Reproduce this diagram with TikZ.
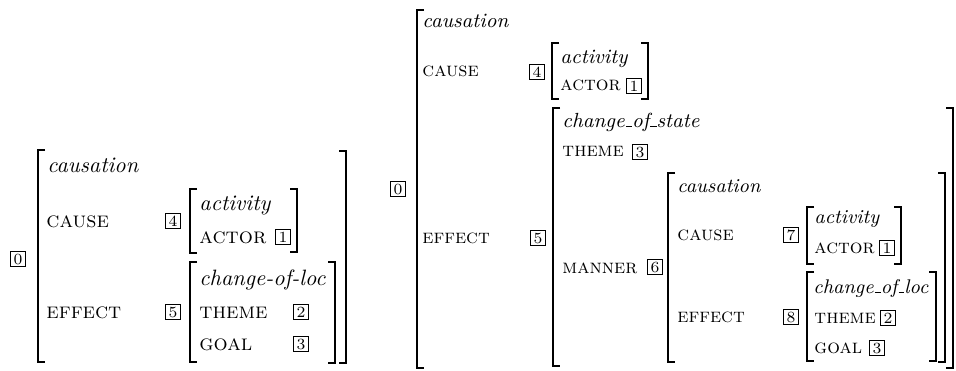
\documentclass[tikz,border=0pt]{standalone}
\usetikzlibrary{positioning}

\newcommand{\lbrak}[3]{\draw[brk] (#1+7,#2) -- (#1,#2) -- (#1,#3) -- (#1+7,#3);}
\newcommand{\rbrak}[3]{\draw[brk] (#1-7,#2) -- (#1,#2) -- (#1,#3) -- (#1-7,#3);}
\newcommand{\uscore}{\leavevmode\kern.06em\vbox{\hrule width.3em}}

\begin{document}
\begin{tikzpicture}[x=0.45pt,y=-0.45pt,
  brk/.style={line width=0.55pt},
  feat/.style={anchor=base west,inner sep=0pt,font=\scshape},
  ftype/.style={anchor=base west,inner sep=0pt,font=\itshape},
  rfeat/.style={anchor=base west,inner sep=0pt,font=\fontsize{9}{11}\selectfont\scshape},
  rtype/.style={anchor=base west,inner sep=0pt,font=\fontsize{9.2}{11}\selectfont\itshape},
  mtype/.style={anchor=base west,inner sep=0pt,font=\fontsize{8.9}{11}\selectfont\itshape},
  tag/.style={draw,line width=0.4pt,inner sep=0pt,minimum width=6.4pt,minimum height=6.6pt,font=\scriptsize}]
\useasboundingbox (0,0) rectangle (956,370);

% left structure
\node[tag] (Lt0) at (18,259) {0};
\lbrak{38}{150}{362}
\rbrak{346}{151}{363}
\node[ftype] (Lcaus) at (47,172) {causation};
\node[feat] (Lcause) at (46,227) {cause};
\node[tag] (Lt4) at (173,221) {4};
\lbrak{190}{189}{253}
\rbrak{297}{189}{252}
\node[ftype] (Lact) at (199,210) {activity};
\node[feat] (Lactor) at (199,243) {actor};
\node[tag] (Lt1) at (283,237) {1};
\node[feat] (Leff) at (46,318) {effect};
\node[tag] (Lt5) at (173,312) {5};
\lbrak{190}{262}{362}
\rbrak{335}{262}{363}
\node[ftype] (Lloc) at (199,285) {change-of-loc};
\node[feat] (Ltheme) at (199,318) {theme};
\node[tag] (Lt2) at (301,312) {2};
\node[feat] (Lgoal) at (199,350) {goal};
\node[tag] (Lt3) at (301,344) {3};

% right structure
\node[tag] (Rt0) at (398,189) {0};
\lbrak{417}{10}{368}
\node[rtype] (Rcaus) at (422,27) {causation};
\node[rfeat] (Rcause) at (422,76) {cause};
\node[tag] (Rt4) at (537,72) {4};
\lbrak{552}{43}{99}
\rbrak{648}{43}{99}
\node[rtype] (Ract) at (560,63) {activity};
\node[rfeat] (Ractor) at (560,90) {actor};
\node[tag] (Rt1) at (634,86) {1};
\node[rfeat] (Reff) at (422,243) {effect};
\node[tag] (Rt5) at (538,238) {5};
\lbrak{553}{108}{366}
\rbrak{953}{108}{368}
\node[rtype] (Rstate) at (562,127) {change\uscore of\uscore state};
\node[rfeat] (Rtheme) at (562,156) {theme};
\node[tag] (Rt3) at (640,152) {3};
\node[rfeat] (Rmanner) at (562,273) {manner};
\node[tag] (Rt6) at (655,267) {6};
% manner value
\lbrak{668}{173}{362}
\rbrak{945}{173}{362}
\node[mtype] (Mcaus) at (677,192) {causation};
\node[rfeat] (Mcause) at (677,240) {cause};
\node[tag] (Mt7) at (791,235) {7};
\lbrak{807}{207}{264}
\rbrak{901}{207}{264}
\node[mtype] (Mact) at (814,223) {activity};
\node[rfeat] (Mactor) at (814,253) {actor};
\node[tag] (Mt1) at (887,248) {1};
\node[rfeat] (Meff) at (677,322) {effect};
\node[tag] (Mt8) at (791,317) {8};
\lbrak{807}{272}{361}
\rbrak{936}{272}{361}
\node[mtype] (Mloc) at (813,293) {change\uscore of\uscore loc};
\node[rfeat] (Mtheme) at (814,323) {theme};
\node[tag] (Mt2) at (888,318) {2};
\node[rfeat] (Mgoal) at (814,353) {goal};
\node[tag] (Mt3) at (877,348) {3};
\end{tikzpicture}
\end{document}
